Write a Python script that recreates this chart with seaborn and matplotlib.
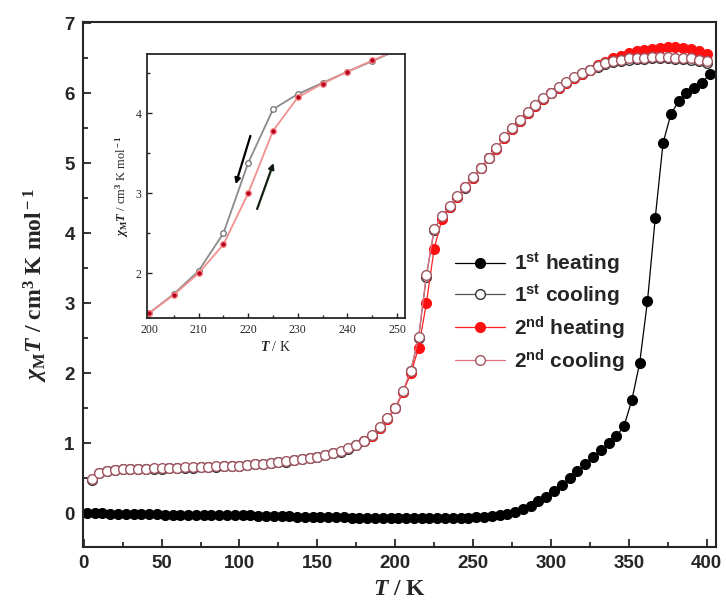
import numpy as np
import pandas as pd
import matplotlib
matplotlib.use("Agg")
import matplotlib.pyplot as plt
from matplotlib.ticker import MultipleLocator
import seaborn as sns

# temperatures (K)
T_heat1 = [2, 7, 12, 17, 22, 27, 32, 37, 42, 47, 52, 57, 62, 67, 72, 77, 82, 87, 92, 97,
           102, 107, 112, 117, 122, 127, 132, 137, 142, 147, 152, 157, 162, 167, 172, 177, 182, 187, 192, 197,
           202, 207, 212, 217, 222, 227, 232, 237, 242, 247, 252, 257, 262, 267, 272, 277, 282, 287, 292, 297,
           302, 307, 312, 317, 322, 327, 332, 337, 342, 347, 352, 357, 362, 367, 372, 377, 382, 387, 392, 397, 402]
heat1 = [0.00, 0.00, 0.00, -0.01, -0.01, -0.01, -0.01, -0.01, -0.01, -0.01,
         -0.02, -0.02, -0.02, -0.02, -0.02, -0.02, -0.03, -0.03, -0.03, -0.03,
         -0.03, -0.03, -0.04, -0.04, -0.04, -0.04, -0.04, -0.05, -0.05, -0.05,
         -0.05, -0.05, -0.05, -0.05, -0.06, -0.06, -0.06, -0.06, -0.06, -0.06,
         -0.06, -0.06, -0.06, -0.06, -0.06, -0.06, -0.06, -0.06, -0.06, -0.06,
         -0.05, -0.05, -0.04, -0.03, -0.01, 0.02, 0.06, 0.11, 0.17, 0.24,
         0.32, 0.41, 0.50, 0.60, 0.70, 0.80, 0.90, 1.00, 1.10, 1.25,
         1.62, 2.15, 3.03, 4.22, 5.29, 5.70, 5.89, 6.00, 6.08, 6.15, 6.28]

T_cool = [5, 10, 15, 20, 25, 30, 35, 40, 45, 50, 55, 60, 65, 70, 75, 80, 85, 90, 95, 100,
          105, 110, 115, 120, 125, 130, 135, 140, 145, 150, 155, 160, 165, 170, 175, 180, 185, 190, 195, 200,
          205, 210, 215, 220, 225, 230, 235, 240, 245, 250, 255, 260, 265, 270, 275, 280, 285, 290, 295, 300,
          305, 310, 315, 320, 325, 330, 335, 340, 345, 350, 355, 360, 365, 370, 375, 380, 385, 390, 395, 400]
cool1 = [0.48, 0.57, 0.60, 0.62, 0.63, 0.63, 0.64, 0.64, 0.64, 0.64,
         0.65, 0.65, 0.65, 0.65, 0.66, 0.66, 0.66, 0.67, 0.67, 0.68,
         0.69, 0.70, 0.71, 0.72, 0.73, 0.74, 0.76, 0.77, 0.79, 0.81,
         0.83, 0.86, 0.88, 0.92, 0.97, 1.03, 1.11, 1.22, 1.35, 1.50,
         1.74, 2.03, 2.50, 3.38, 4.05, 4.24, 4.38, 4.52, 4.65, 4.79,
         4.93, 5.07, 5.21, 5.36, 5.49, 5.61, 5.72, 5.82, 5.92, 6.00,
         6.08, 6.15, 6.22, 6.28, 6.33, 6.38, 6.42, 6.45, 6.47, 6.48,
         6.49, 6.49, 6.50, 6.50, 6.50, 6.49, 6.49, 6.48, 6.46, 6.44]
cool2 = [0.49, 0.57, 0.61, 0.62, 0.63, 0.64, 0.64, 0.64, 0.65, 0.65,
         0.65, 0.65, 0.66, 0.66, 0.66, 0.66, 0.67, 0.67, 0.68, 0.68,
         0.69, 0.70, 0.71, 0.72, 0.73, 0.75, 0.76, 0.78, 0.79, 0.81,
         0.84, 0.86, 0.89, 0.93, 0.98, 1.04, 1.12, 1.23, 1.36, 1.51,
         1.75, 2.04, 2.52, 3.40, 4.06, 4.25, 4.39, 4.53, 4.66, 4.80,
         4.94, 5.08, 5.22, 5.37, 5.50, 5.62, 5.73, 5.83, 5.93, 6.01,
         6.09, 6.16, 6.23, 6.29, 6.34, 6.39, 6.43, 6.46, 6.48, 6.50,
         6.51, 6.51, 6.52, 6.52, 6.52, 6.51, 6.51, 6.50, 6.48, 6.46]

T_heat2 = [180, 185, 190, 195, 200, 205, 210, 215, 220, 225, 230, 235, 240, 245, 250,
           255, 260, 265, 270, 275, 280, 285, 290, 295, 300, 305, 310, 315, 320, 325,
           330, 335, 340, 345, 350, 355, 360, 365, 370, 375, 380, 385, 390, 395, 400]
heat2 = [1.03, 1.11, 1.22, 1.35, 1.50, 1.73, 2.00, 2.36, 3.00, 3.78, 4.20, 4.37, 4.52, 4.66, 4.79,
         4.93, 5.07, 5.21, 5.36, 5.49, 5.61, 5.72, 5.82, 5.92, 6.00, 6.08, 6.15, 6.22, 6.28, 6.34,
         6.40, 6.45, 6.50, 6.54, 6.58, 6.60, 6.62, 6.64, 6.65, 6.66, 6.66, 6.65, 6.63, 6.60, 6.57]

labels = [r'1$^{\bf st}$ heating', r'1$^{\bf st}$ cooling',
          r'2$^{\bf nd}$ heating', r'2$^{\bf nd}$ cooling']

df_h1 = pd.DataFrame({'T': T_heat1, 'chiT': heat1})
df_c1 = pd.DataFrame({'T': T_cool, 'chiT': cool1})
df_h2 = pd.DataFrame({'T': T_heat2, 'chiT': heat2})
df_c2 = pd.DataFrame({'T': T_cool, 'chiT': cool2})

sns.set_style('ticks')
plt.rcParams['font.family'] = ['Liberation Sans', 'DejaVu Sans']
plt.rcParams['mathtext.fontset'] = 'custom'
plt.rcParams['mathtext.rm'] = 'Liberation Serif:bold'
plt.rcParams['mathtext.it'] = 'Liberation Serif:italic:bold'
plt.rcParams['mathtext.bf'] = 'Liberation Sans:bold'

fig = plt.figure(figsize=(7.26, 6.03), dpi=100)
ax = fig.add_axes([0.1143, 0.0930, 0.8719, 0.8705])

styles = [
    dict(color='black', mfc='black', mec='black'),
    dict(color='#555555', mfc='white', mec='#333333'),
    dict(color='#ff2020', mfc='#ff1010', mec='#ff1010'),
    dict(color='#e07080', mfc='white', mec='#a05560'),
]
for d, lab, st in zip([df_h1, df_c1, df_h2, df_c2], labels, styles):
    sns.lineplot(data=d, x='T', y='chiT', ax=ax, label=lab, color=st['color'],
                 linewidth=0.9, marker='o', markersize=7, markerfacecolor=st['mfc'],
                 markeredgecolor=st['mec'], markeredgewidth=1.0)

ax.set_xlim(-0.5, 406)
ax.set_ylim(-0.48, 7.02)
ax.xaxis.set_major_locator(MultipleLocator(50))
ax.xaxis.set_minor_locator(MultipleLocator(25))
ax.yaxis.set_major_locator(MultipleLocator(1))
ax.yaxis.set_minor_locator(MultipleLocator(0.5))
ax.tick_params(which='both', direction='in', width=1.3)
ax.tick_params(which='major', length=6, labelsize=13.5, pad=6)
ax.tick_params(which='minor', length=3.5)
for lbl in ax.get_xticklabels() + ax.get_yticklabels():
    lbl.set_fontweight('bold')
for s in ax.spines.values():
    s.set_linewidth(1.5)
ax.set_xlabel(r'$T$ / K', fontsize=17, family='Liberation Serif', fontweight='bold', labelpad=5)
ax.set_ylabel(r'$\chi_{\rm M}T$ / cm$^{\rm 3}$ K mol$^{\rm -1}$', fontsize=17,
              family='Liberation Serif', fontweight='bold', labelpad=10)

leg = ax.legend(loc='upper left', bbox_to_anchor=(0.575, 0.58), frameon=False,
                handlelength=2.4, labelspacing=0.32, handletextpad=0.4, borderaxespad=0,
                prop={'family': 'Liberation Sans', 'weight': 'bold', 'size': 15})

# inset: transition region
axin = fig.add_axes([0.2025, 0.4726, 0.3554, 0.4378])
in_h = df_h2[(df_h2['T'] >= 200) & (df_h2['T'] <= 250)]
in_c = df_c1[(df_c1['T'] >= 200) & (df_c1['T'] <= 250)]
sns.lineplot(data=in_c, x='T', y='chiT', ax=axin, color='#8a8a8a', linewidth=1.3,
             marker='o', markersize=4, markerfacecolor='white', markeredgecolor='#707070',
             markeredgewidth=0.9, legend=False)
sns.lineplot(data=in_h, x='T', y='chiT', ax=axin, color='#f09090', linewidth=1.3,
             marker='o', markersize=4, markerfacecolor='#b00020', markeredgecolor='#ff8080',
             markeredgewidth=0.9, legend=False)
axin.annotate('', xy=(217.3, 3.08), xytext=(220.6, 3.75),
              arrowprops=dict(arrowstyle='-|>', color='black', lw=1.6, mutation_scale=8))
axin.annotate('', xy=(225.3, 3.41), xytext=(221.6, 2.77),
              arrowprops=dict(arrowstyle='-|>', color='#102010', lw=1.6, mutation_scale=8))
axin.set_xlim(199.6, 251.6)
axin.set_ylim(1.44, 4.74)
axin.xaxis.set_major_locator(MultipleLocator(10))
axin.xaxis.set_minor_locator(MultipleLocator(5))
axin.yaxis.set_major_locator(MultipleLocator(1))
axin.yaxis.set_minor_locator(MultipleLocator(0.5))
axin.tick_params(which='both', direction='in', width=1.0)
axin.tick_params(which='major', length=3.5, labelsize=8.5, pad=4)
axin.tick_params(which='minor', length=2)
for lbl in axin.get_xticklabels() + axin.get_yticklabels():
    lbl.set_family('Liberation Serif')
for s in axin.spines.values():
    s.set_linewidth(1.3)
axin.set_xlabel(r'$T$ / K', fontsize=10, family='Liberation Serif', labelpad=3)
axin.set_ylabel(r'$\chi_{\rm M}T$ / cm$^{\rm 3}$ K mol$^{\rm -1}$', fontsize=9,
                family='Liberation Serif', labelpad=3)

fig.savefig('out.png', dpi=100)
